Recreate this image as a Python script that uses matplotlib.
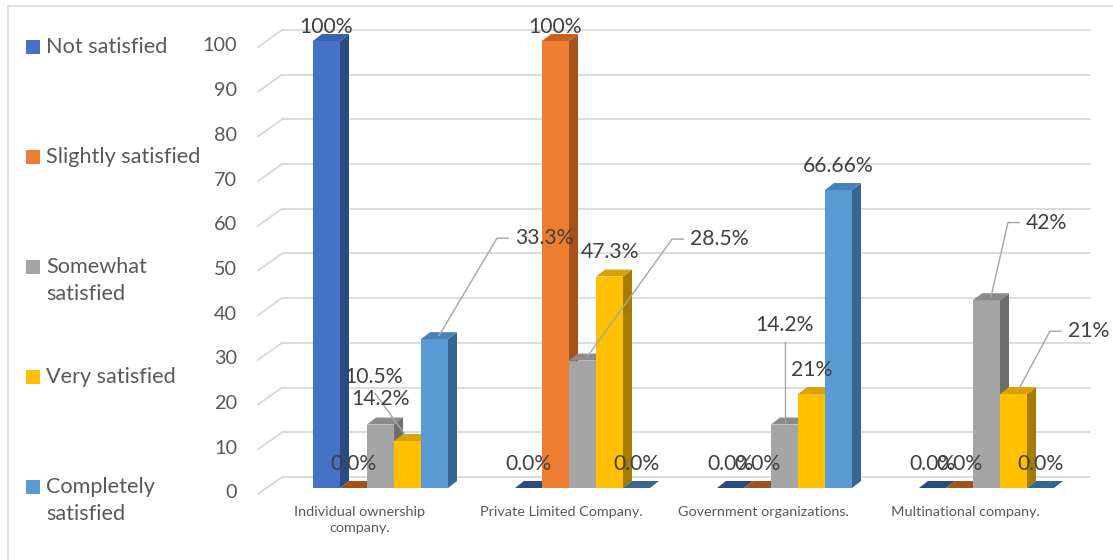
import numpy as np
import matplotlib.pyplot as plt
from matplotlib.patches import Polygon, Rectangle

categories = ['Individual ownership\ncompany.', 'Private Limited Company.',
              'Government organizations.', 'Multinational company.']
series = ['Not satisfied', 'Slightly satisfied', 'Somewhat\nsatisfied',
          'Very satisfied', 'Completely\nsatisfied']
not_satisfied = [100, 0, 0, 0]
slightly_satisfied = [0, 100, 0, 0]
somewhat_satisfied = [14.2, 28.5, 14.2, 42]
very_satisfied = [10.5, 47.3, 21, 21]
completely_satisfied = [33.3, 0, 66.66, 0]
label_text = [['100%', '0.0%', '0.0%', '0.0%'],
              ['0.0%', '100%', '0.0%', '0.0%'],
              ['14.2%', '28.5%', '14.2%', '42%'],
              ['10.5%', '47.3%', '21%', '21%'],
              ['33.3%', '0.0%', '66.66%', '0.0%']]
yticks = np.arange(0, 101, 10)

values = [not_satisfied, slightly_satisfied, somewhat_satisfied,
          very_satisfied, completely_satisfied]
front = ['#4472C4', '#ED7D31', '#A5A5A5', '#FFC000', '#5B9BD5']
top = ['#3A63AE', '#C8621E', '#8A8A8A', '#D9A200', '#4A82B8']
side = ['#2C4A82', '#A4521B', '#6E6E6E', '#A67C00', '#386690']

plt.rcParams['font.family'] = ['Lato', 'DejaVu Sans']

W, H = 1113, 560
fig = plt.figure(figsize=(W / 100, H / 100), dpi=100)
ax = fig.add_axes([0, 0, 1, 1])
# one x unit = one category step (202 px), one y unit = 4.47 px
sx, sy = 202.0, 4.47
x0, y0 = 380.5, 488.0
ax.set_xlim(-x0 / sx, (W - x0) / sx)
ax.set_ylim((y0 - H) / sy, y0 / sy)
ax.axis('off')

bw = 27 / sx            # bar width
ddx, ddy = 9 / sx, 7 / sy   # bar depth
wdx, wdy = 24 / sx, 17 / sy  # wall depth (floor diagonal)
back_dy = 11 / sy
grid_left = (282 - x0) / sx
grid_right = (1090 - x0) / sx
diag_left = (258 - x0) / sx

# back wall gridlines + the slanted ticks on the left
for t in yticks:
    ax.plot([grid_left, grid_right], [t + back_dy, t + back_dy],
            color='#D9D9D9', lw=1.3, zorder=1)
    ax.plot([diag_left, grid_left], [t + back_dy - wdy, t + back_dy],
            color='#D9D9D9', lw=1.3, zorder=1)
    ax.text((237 - x0) / sx, t - 5 / sy, str(t), ha='right', va='center',
            fontsize=14.3, color='#595959')

# bars, left to right so each front hides the previous side face
z = 2
for i in range(len(categories)):
    for s in range(len(series)):
        v = values[s][i]
        left = i + (s - 2.5) * bw
        if v > 0:
            ax.bar(left, v, width=bw, align='edge', color=front[s],
                   linewidth=0, zorder=z)
            ax.add_patch(Polygon([(left + bw, 0), (left + bw + ddx, ddy),
                                  (left + bw + ddx, v + ddy), (left + bw, v)],
                                 closed=True, color=side[s], lw=0, zorder=z))
        ax.add_patch(Polygon([(left, v), (left + ddx, v + ddy),
                              (left + bw + ddx, v + ddy), (left + bw, v)],
                             closed=True, color=top[s] if v > 0 else side[s],
                             lw=0, zorder=z))
        z += 1

# labels moved off their bars, with leader lines: (dx, dy) of the elbow
leaders = {(4, 0): (0.287, 21.8), (2, 1): (0.421, 26.4),
           (2, 3): (0.084, 16.6), (3, 3): (0.158, 13.3)}
lc = '#A6A6A6'
for s in range(len(series)):
    for i in range(len(categories)):
        v = values[s][i]
        cx = i + (s - 2) * bw
        txt = label_text[s][i]
        kw = dict(fontsize=15.2, color='#404040', zorder=100)
        if (s, i) in leaders:
            ex, ey = leaders[(s, i)]
            bx, by = cx + ddx / 2, v + ddy / 2
            ax.plot([bx, bx + ex, bx + ex + 0.055], [by, by + ey, by + ey],
                    color=lc, lw=1, zorder=99)
            ax.text(bx + ex + 0.09, by + ey, txt, ha='left', va='center', **kw)
        elif (s, i) == (2, 2):
            ax.plot([cx, cx], [v + 0.3, v + 18.5], color=lc, lw=1, zorder=99)
            ax.text(cx, v + 22.3, txt, ha='center', va='center', **kw)
        elif (s, i) == (3, 0):
            ax.plot([cx, cx - 0.161], [v + 0.7, v + 10.7], color=lc, lw=1,
                    zorder=99)
            ax.text(cx - 0.166, v + 14.3, txt, ha='center', va='center', **kw)
        elif (s, i) == (2, 0):
            ax.text(cx, v + 5.7, txt, ha='center', va='center', **kw)
        else:
            ax.text(cx, min(v + 5.4, 103.1), txt, ha='center', va='center', **kw)

for i, c in enumerate(categories):
    ax.text(i - 21 / sx, (y0 - 506) / sy, c, ha='center', va='top',
            fontsize=10.4, color='#595959', linespacing=1.45)

# legend down the left side
legend_y = [47, 157, 267, 377, 487]
for s, name in enumerate(series):
    yc = 1 - legend_y[s] / H
    fig.add_artist(Rectangle((26 / W, yc - 7 / H), 14 / W, 14 / H,
                             transform=fig.transFigure, color=front[s], lw=0))
    fig.text(46 / W, yc + 10 / H, name, ha='left', va='top', fontsize=15.6,
             color='#595959', linespacing=1.45)

# chart border: only the top and left edges fall inside the image
fig.add_artist(Rectangle((8 / W, -0.05), 1.2, 1.05 - 6 / H,
                         transform=fig.transFigure, fill=False,
                         edgecolor='#D9D9D9', lw=1.2))

fig.savefig('out.png', dpi=100)
